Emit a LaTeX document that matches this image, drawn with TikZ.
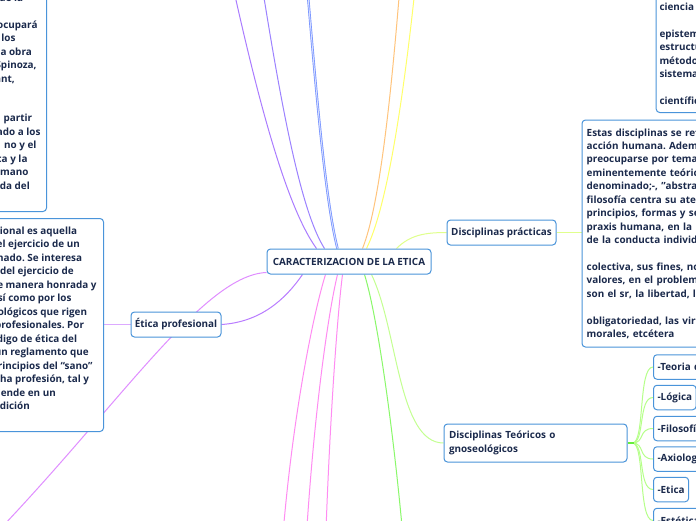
\documentclass[tikz,border=0pt]{standalone}
\usepackage{fontspec}
\setmainfont{Open Sans}
\frenchspacing
\definecolor{txt}{HTML}{1B2A4C}
\definecolor{bxc}{HTML}{4A94DA}
\definecolor{cpa}{HTML}{AA7CFF}
\definecolor{cpb}{HTML}{9C82FF}
\definecolor{cbl}{HTML}{6F8DFF}
\definecolor{cor}{HTML}{FFC47C}
\definecolor{cye}{HTML}{FFFF6A}
\definecolor{cyg}{HTML}{E0FF8C}
\definecolor{cgr}{HTML}{8AF86A}
\definecolor{clg}{HTML}{C4FF92}
\definecolor{cmg}{HTML}{FF8CF2}
\definecolor{cvi}{HTML}{B97CFF}
\definecolor{clm}{HTML}{E08EFF}
\definecolor{clp}{HTML}{DCAAFF}
\definecolor{cch}{HTML}{B6FF8A}
\definecolor{cst}{HTML}{66EE3A}
\pgfdeclarelayer{bg}
\pgfsetlayers{bg,main}
\begin{document}
\frenchspacing
\begin{tikzpicture}[x=1pt,y=-1pt,
  bx/.style={draw=bxc,line width=1pt,rounded corners=3.5pt,fill=white,inner sep=0pt},
  tx/.style={text=txt,font=\fontsize{9.9}{13.45}\selectfont\bfseries\frenchspacing,inner sep=0pt},
  frag/.style={tx,anchor=base east},
  kid/.style={bx,tx,anchor=west,inner xsep=4pt,minimum height=24.5pt},
  cn/.style={line width=1pt}]
\useasboundingbox (0,0) rectangle (696,520);

% main nodes
\node[bx,tx,minimum width=164pt,minimum height=25pt] (central) at (349,261.5) {CARACTERIZACION DE LA ETICA};
\node[bx,tx,minimum width=109pt,minimum height=25pt] (prac) at (501.5,232.5) {Disciplinas prácticas};
\node[bx,tx,minimum width=90pt,minimum height=25pt] (etp) at (176,324.5) {Ética profesional};
\node[bx,tx,text width=173pt,inner xsep=5pt,minimum height=38pt,align=left] (teo) at (535.5,443) {Disciplinas Teóricos o\\gnoseológicos};

% children of teo
\node[kid,text width=139pt,align=left] (k1) at (653,367) {-Teoria del conocimiento};
\node[kid] (k2) at (653,397.5) {-Lógica};
\node[kid,text width=139pt,align=left] (k3) at (653,428.5) {-Filosofía de la ciencia};
\node[kid,text width=139pt,align=left] (k4) at (653,459) {-Axiología};
\node[kid] (k5) at (653,489.5) {-Etica};
\node[kid,text width=139pt,align=left] (k6) at (653,520.5) {-Estética};

% right text box
\node[bx,minimum width=218pt,minimum height=227pt] (b3) at (691,233.5) {};
\node[tx,anchor=base west,text width=250pt,align=left] (t3) at (586.5,136) {Estas disciplinas se refieren a la\\
acción humana. Además de\\
preocuparse por temas\\
eminentemente teóricos,\\
denominado;-, "abstractos", la\\
filosofía centra su atención en los\\
principios, formas y sentido de la\\
praxis humana, en la regulación\\
de la conducta individual y\\
\mbox{}\\
colectiva, sus fines, normas y\\
valores, en el problema de lo que\\
son el sr, la libertad, la\\
\mbox{}\\
obligatoriedad, las virtudes\\
morales, etcétera};

% top right box
\node[bx,minimum width=150pt,minimum height=150pt,anchor=south west] (b4) at (655.7,113) {};
\node[tx,anchor=base west,text width=150pt,align=left] (t4) at (659.3,10.3) {ciencia\\
\mbox{}\\
epistemología\\
estructura\\
métodos\\
sistemas\\
\mbox{}\\
científicos};

% left top box
\node[bx,minimum width=80pt,minimum height=250pt,anchor=south east] (b1) at (47,212) {};
\node[frag] (a0) at (23.3,1) {y de la};
\node[frag] (a1) at (37.7,28) {se ocupará};
\node[frag] (a2) at (15.7,41.5) {de los};
\node[frag] (a3) at (32,55) {la obra};
\node[frag] (a4) at (36.7,68.5) {Spinoza,};
\node[frag] (a5) at (15,82) {Kant,};
\node[frag] (a6) at (32.3,121.5) {a partir};
\node[frag] (a7) at (40.7,135) {ado a los};
\node[frag] (a8) at (36.7,148.5) {no y el};
\node[frag] (a9) at (27.7,162) {ca y la};
\node[frag] (a10) at (28.7,175.5) {mano};
\node[frag] (a11) at (30,189) {da del};

% left middle box
\node[bx,minimum width=140pt,minimum height=213pt,anchor=north east] (b2) at (104,218) {};
\node[frag] (p1) at (77.3,234) {profesional es aquella};
\node[frag] (p2) at (80,247.5) {del ejercicio de un};
\node[frag] (p3) at (82.3,261) {determinado. Se interesa};
\node[frag] (p4) at (74,274.5) {fines del ejercicio de};
\node[frag] (p5) at (96.7,288) {de manera honrada y};
\node[frag] (p6) at (71.7,301.5) {así como por los};
\node[frag] (p7) at (87.3,315) {deontológicos que rigen};
\node[frag] (p8) at (84.3,328.5) {los profesionales. Por};
\node[frag] (p9) at (77.3,342) {código de ética del};
\node[frag] (p10) at (89,355.5) {un reglamento que};
\node[frag] (p11) at (92.7,369) {principios del “sano”};
\node[frag] (p12) at (89.3,382.5) {dicha profesión, tal y};
\node[frag] (p13) at (56,396) {entiende en un};
\node[frag] (p14) at (30,409.5) {tradición};

\begin{pgfonlayer}{bg}
\fill[white] (0,0) rectangle (696,520);
\coordinate (u1) at (225,-50);
\coordinate (u2) at (258,-40);
\coordinate (u3) at (305,-40);
\coordinate (u4) at (402,-40);
\coordinate (u5) at (418,-40);
\coordinate (d1) at (281,560);
\coordinate (d2) at (305,560);
\coordinate (d3) at (325,560);
\coordinate (d4) at (405,560);
\coordinate (sw) at (-30,560);

\draw[cn,cpa] ([xshift=50pt]central.north west) .. controls (285,205) and (255,90) .. (u1);
\draw[cn,cpb] ([xshift=58pt]central.north west) .. controls (300,210) and (280,100) .. (u2);
\draw[cbl,line width=0.7pt,double=cbl!30,double distance=1pt] ([xshift=71pt]central.north west) .. controls (325,200) and (315,80) .. (u3);
\draw[cn,cor] ([xshift=96pt]central.north west) .. controls (380,205) and (392,90) .. (u4);
\draw[cn,cye] ([xshift=100pt]central.north west) .. controls (388,205) and (405,90) .. (u5);
\draw[cn,cyg] ([xshift=130pt]central.north west) .. controls (410,235) and (425,232.5) .. (prac.west);
\draw[cn,cyg] (prac.east) -- (b3.west |- prac.east);

\draw[cn,cmg] ([xshift=59pt]central.south west) .. controls (312,318) and (290,430) .. (d1);
\draw[cn,cmg] ([xshift=71pt]central.south west) .. controls (327,318) and (312,430) .. (d2);
\draw[cn,cmg] ([xshift=76pt]central.south west) .. controls (337,318) and (329,430) .. (d3);
\draw[cn,cgr] ([xshift=98pt]central.south west) .. controls (378,318) and (395,440) .. (d4);
\draw[cn,clg] ([xshift=105pt]central.south west) .. controls (398,330) and (398,443) .. (teo.west);

\draw[cn,clm] ([yshift=2pt]central.south west) .. controls (200,275) and (110,420) .. (sw);
\draw[cn,cvi] (etp.east) .. controls (260,322) and (285,300) .. ([xshift=36pt]central.south west);
\draw[cn,clp] (b2.east |- etp.west) -- (etp.west);

\foreach \k in {k1,k2,k3,k4,k5,k6}{
  \draw[cn,cch] ([xshift=5pt]teo.east) .. controls (645,443) and (638,0|-\k.west) .. (\k.west);
}
\draw[line width=1.6pt,cst] (teo.east) -- ([xshift=6pt]teo.east);
\end{pgfonlayer}
\end{tikzpicture}
\end{document}
